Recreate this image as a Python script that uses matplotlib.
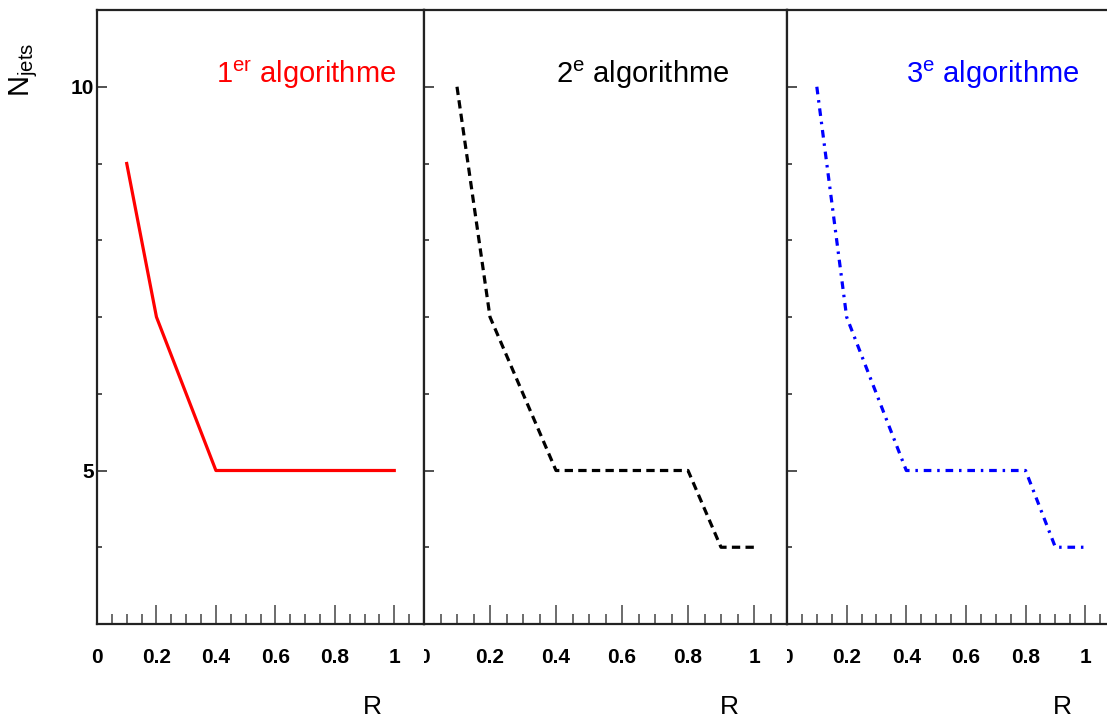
import matplotlib
matplotlib.use('Agg')
import matplotlib.pyplot as plt
from matplotlib.ticker import MultipleLocator, FixedLocator, FixedFormatter
from matplotlib.transforms import Bbox, TransformedBbox, blended_transform_factory

plt.rcParams['font.family'] = ['Liberation Sans', 'DejaVu Sans']
plt.rcParams['mathtext.fontset'] = 'custom'
plt.rcParams['mathtext.rm'] = 'Liberation Sans'
plt.rcParams['lines.scale_dashes'] = False

# data
r_algo1 = [0.1, 0.2, 0.4, 1.0]
njets_algo1 = [9, 7, 5, 5]
r_algo2 = [0.1, 0.2, 0.4, 0.8, 0.9, 1.0]
njets_algo2 = [10, 7, 5, 5, 4, 4]
r_algo3 = [0.1, 0.2, 0.4, 0.8, 0.9, 1.0]
njets_algo3 = [10, 7, 5, 5, 4, 4]

titles = ['1$^{\\mathrm{er}}$ algorithme', '2$^{\\mathrm{e}}$ algorithme', '3$^{\\mathrm{e}}$ algorithme']
colors = ['#ff0000', '#000000', '#0000ff']
styles = ['-', (0, (6.0, 3.8)), (0, (5.5, 4.2, 1.8, 4.2))]
major_x = [0, 0.2, 0.4, 0.6, 0.8, 1.0]
major_x_labels = ['0', '0.2', '0.4', '0.6', '0.8', '1']

W, H = 1107, 717
fig = plt.figure(figsize=(W / 100, H / 100), dpi=100)

# panel boxes in pixels: (left, right)
panels = [(97, 424), (424, 787), (787, 1115)]
top, bottom = 10, 624
series = [(r_algo1, njets_algo1), (r_algo2, njets_algo2), (r_algo3, njets_algo3)]

for i, ((x0, x1), (xs, ys)) in enumerate(zip(panels, series)):
    ax = fig.add_axes([x0 / W, 1 - bottom / H, (x1 - x0) / W, (bottom - top) / H])
    ax.plot(xs, ys, color=colors[i], linestyle=styles[i], linewidth=2.3)
    ax.set_xlim(0, 1.1)
    ax.set_ylim(3, 11)

    for s in ax.spines.values():
        s.set_linewidth(1.6)
        s.set_color('#222222')

    ax.xaxis.set_major_locator(FixedLocator(major_x))
    ax.xaxis.set_major_formatter(FixedFormatter(major_x_labels))
    ax.xaxis.set_minor_locator(MultipleLocator(0.05))
    ax.yaxis.set_major_locator(FixedLocator([5, 10]))
    ax.yaxis.set_minor_locator(MultipleLocator(1))

    ax.tick_params(axis='x', which='both', direction='in', top=False, width=1.1,
                   color='#444444', pad=17, labelsize=15)
    ax.tick_params(axis='x', which='major', length=13.5)
    ax.tick_params(axis='x', which='minor', length=7.5)
    ax.tick_params(axis='y', which='both', direction='in', right=False, width=1.1,
                   color='#222222', pad=2, labelsize=15)
    ax.tick_params(axis='y', which='major', length=7)
    ax.tick_params(axis='y', which='minor', length=3.5)
    for lab in ax.get_xticklabels() + ax.get_yticklabels():
        lab.set_fontweight('bold')
    if i > 0:
        ax.set_yticklabels([])
        # left half of the "0" label is hidden in the reference
        clip = TransformedBbox(Bbox([[0, -1], [1, 2]]), ax.transAxes)
        first = ax.xaxis.get_major_ticks()[0].label1
        first.set_clip_box(clip)
        first.set_clip_on(True)

    ax.text(0.4, 10.05, titles[i], color=colors[i], fontsize=21, ha='left', va='baseline')

    trans = blended_transform_factory(ax.transData, ax.transAxes)
    ax.text(0.925, -0.135, 'R', transform=trans, fontsize=19, ha='center', va='center')

fig.text(24 / W, 1 - 70 / H, 'N$_{\\mathrm{jets}}$', rotation=90, fontsize=21,
         ha='center', va='center')

fig.savefig('out.png', dpi=100)
